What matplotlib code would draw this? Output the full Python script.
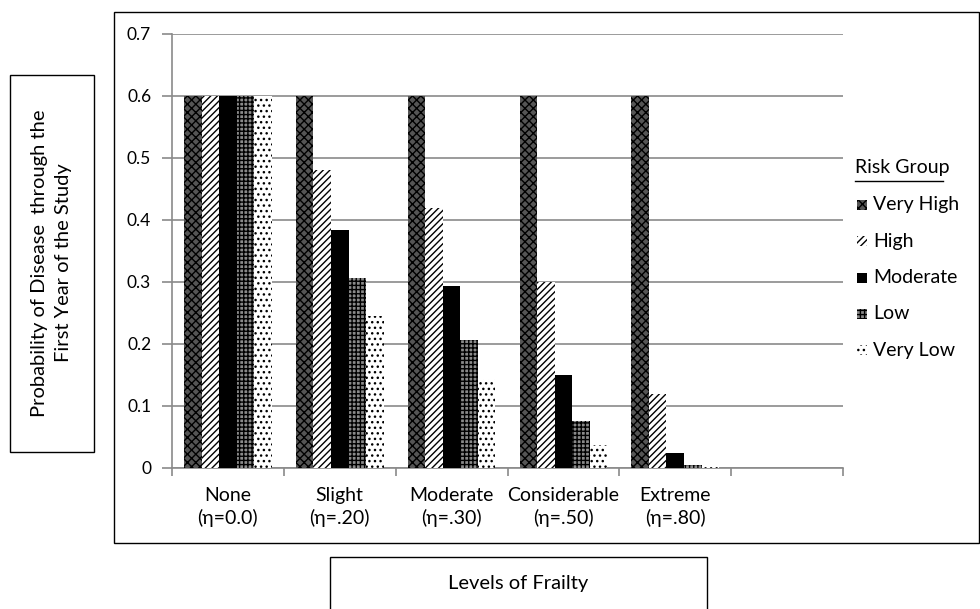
import matplotlib
matplotlib.use("Agg")
from matplotlib import pyplot as plt
import matplotlib.patches as patches
import numpy as np

plt.rcParams['font.family'] = ['Lato', 'DejaVu Sans']
plt.rcParams['hatch.linewidth'] = 1.0

categories = ['None\n(η=0.0)', 'Slight\n(η=.20)', 'Moderate\n(η=.30)',
              'Considerable\n(η=.50)', 'Extreme\n(η=.80)', '']
groups = ['Very High', 'High', 'Moderate', 'Low', 'Very Low']
very_high = [0.6, 0.6, 0.6, 0.6, 0.6]
high = [0.6, 0.48, 0.42, 0.30, 0.12]
moderate = [0.6, 0.384, 0.294, 0.15, 0.024]
low = [0.6, 0.307, 0.206, 0.076, 0.005]
very_low = [0.6, 0.245, 0.144, 0.037, 0.001]
series = [very_high, high, moderate, low, very_low]

# look of each risk group (facecolor, hatch)
styles = [('#555555', 'xxxx'), ('white', '/////'), ('black', ''),
          ('#8a8a8a', '++++'), ('white', '...')]

W, H = 980, 609
fig = plt.figure(figsize=(9.8, 6.09), dpi=100)

def fbox(x0, y0, x1, y1):
    # box in pixel coords (top-left origin)
    fig.add_artist(patches.Rectangle((x0 / W, 1 - y1 / H), (x1 - x0) / W, (y1 - y0) / H,
                                     transform=fig.transFigure, fill=False,
                                     edgecolor='black', linewidth=1.0))

fbox(114, 12, 979, 543)
fbox(10, 75, 94, 452)
fbox(330, 557, 707, 620)

ax = fig.add_axes([172 / W, 1 - 468 / H, (843 - 172) / W, (468 - 34) / H])
n = len(groups)
bw = 0.157
x = np.arange(len(very_high))
for i, (vals, (fc, hatch)) in enumerate(zip(series, styles)):
    ax.bar(x + (i - (n - 1) / 2) * bw, vals, width=bw, color=fc, hatch=hatch,
           edgecolor='black', linewidth=0, zorder=3)

ax.set_xlim(-0.5, len(categories) - 0.5)
ax.set_ylim(0, 0.7)
ax.set_yticks(np.arange(0, 0.71, 0.1))
ax.set_yticklabels(['0'] + ['%.1f' % v for v in np.arange(0.1, 0.71, 0.1)], fontsize=12.5)
ax.yaxis.grid(True, color='#8a8a8a', linewidth=1.2, zorder=0)
ax.set_axisbelow(True)
ax.set_xticks(np.arange(len(categories)))
ax.set_xticklabels(categories, fontsize=14, linespacing=1.3)
ax.set_xticks(np.arange(-0.5, len(categories)), minor=True)
ax.tick_params(axis='x', which='major', length=0, pad=14)
ax.tick_params(axis='x', which='minor', length=6, color='#8a8a8a', width=1.2)
ax.tick_params(axis='y', length=7, color='#8a8a8a', width=1.2, pad=8)
for s in ['top', 'right']:
    ax.spines[s].set_visible(False)
for s in ['left', 'bottom']:
    ax.spines[s].set_color('#8a8a8a')
    ax.spines[s].set_linewidth(1.2)

fig.text(52 / W, 1 - 263 / H, 'Probability of Disease  through the\nFirst Year of the Study',
         rotation=90, ha='center', va='center', fontsize=14.5, linespacing=1.5)
fig.text(518 / W, 1 - 583 / H, 'Levels of Frailty', ha='center', va='center', fontsize=14.5)

# legend
fig.text(855 / W, 1 - 167 / H, 'Risk Group', ha='left', va='center', fontsize=14)
fig.add_artist(plt.Line2D([855 / W, 943 / W], [1 - 181 / H, 1 - 181 / H],
                          transform=fig.transFigure, color='black', linewidth=1))
for k, (name, (fc, hatch)) in enumerate(zip(groups, styles)):
    yc = 205 + k * 36.3
    fig.add_artist(patches.Rectangle((857 / W, 1 - (yc + 5) / H), 10 / W, 10 / H,
                                     transform=fig.transFigure, facecolor=fc, hatch=hatch,
                                     edgecolor='black', linewidth=0))
    fig.text(873 / W, 1 - yc / H, name, ha='left', va='center', fontsize=14)

fig.savefig('out.png', dpi=100)
